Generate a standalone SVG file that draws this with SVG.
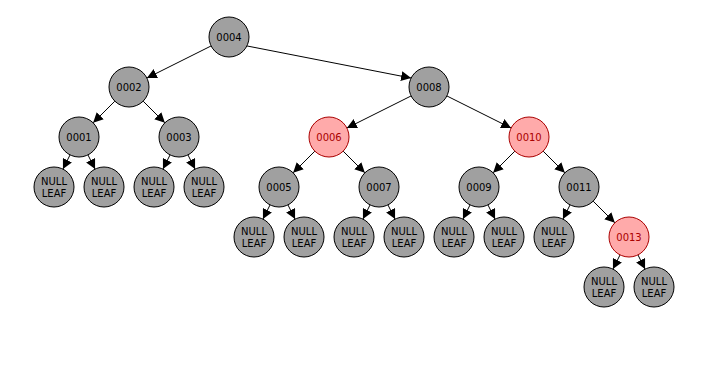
<svg xmlns="http://www.w3.org/2000/svg" width="726" height="390" viewBox="0 0 726 390">
<style>
.n circle{fill:#a0a0a0;stroke:#000;stroke-width:1}
.r circle{fill:#ffaaaa;stroke:#aa0000;stroke-width:1}
text{font-family:"DejaVu Sans",sans-serif;font-size:10px;text-anchor:middle;fill:#000}
.r text{fill:#aa0000}
#edges line{stroke:#000;stroke-width:1;marker-end:url(#ah)}
</style>
<defs>
<marker id="ah" viewBox="0 0 10 10" refX="10" refY="5" markerWidth="10" markerHeight="10" markerUnits="userSpaceOnUse" orient="auto"><path d="M0,0 L10,5 L0,10 z" fill="#000"/></marker>
</defs>
<rect width="726" height="390" fill="#fff"/>
<g id="edges">
<line x1="211.11" y1="45.94" x2="146.89" y2="78.06"/>
<line x1="246.89" y1="45.94" x2="411.11" y2="78.06"/>
<line x1="114.86" y1="101.14" x2="93.14" y2="122.86"/>
<line x1="143.14" y1="101.14" x2="164.86" y2="122.86"/>
<line x1="411.11" y1="95.94" x2="346.89" y2="128.06"/>
<line x1="446.89" y1="95.94" x2="511.11" y2="128.06"/>
<line x1="70.06" y1="154.89" x2="62.94" y2="169.11"/>
<line x1="87.94" y1="154.89" x2="95.06" y2="169.11"/>
<line x1="170.06" y1="154.89" x2="162.94" y2="169.11"/>
<line x1="187.94" y1="154.89" x2="195.06" y2="169.11"/>
<line x1="314.86" y1="151.14" x2="293.14" y2="172.86"/>
<line x1="343.14" y1="151.14" x2="364.86" y2="172.86"/>
<line x1="514.86" y1="151.14" x2="493.14" y2="172.86"/>
<line x1="543.14" y1="151.14" x2="564.86" y2="172.86"/>
<line x1="270.06" y1="204.89" x2="262.94" y2="219.11"/>
<line x1="287.94" y1="204.89" x2="295.06" y2="219.11"/>
<line x1="370.06" y1="204.89" x2="362.94" y2="219.11"/>
<line x1="387.94" y1="204.89" x2="395.06" y2="219.11"/>
<line x1="470.06" y1="204.89" x2="462.94" y2="219.11"/>
<line x1="487.94" y1="204.89" x2="495.06" y2="219.11"/>
<line x1="570.06" y1="204.89" x2="562.94" y2="219.11"/>
<line x1="593.14" y1="201.14" x2="614.86" y2="222.86"/>
<line x1="620.06" y1="254.89" x2="612.94" y2="269.11"/>
<line x1="637.94" y1="254.89" x2="645.06" y2="269.11"/>
</g>
<g id="n0004" class="n"><circle cx="229" cy="37" r="20"/><text x="229" y="40.6">0004</text></g>
<g id="n0002" class="n"><circle cx="129" cy="87" r="20"/><text x="129" y="90.6">0002</text></g>
<g id="n0008" class="n"><circle cx="429" cy="87" r="20"/><text x="429" y="90.6">0008</text></g>
<g id="n0001" class="n"><circle cx="79" cy="137" r="20"/><text x="79" y="140.6">0001</text></g>
<g id="n0003" class="n"><circle cx="179" cy="137" r="20"/><text x="179" y="140.6">0003</text></g>
<g id="n0006" class="r"><circle cx="329" cy="137" r="20"/><text x="329" y="140.6">0006</text></g>
<g id="n0010" class="r"><circle cx="529" cy="137" r="20"/><text x="529" y="140.6">0010</text></g>
<g id="leaf1" class="n"><circle cx="54" cy="187" r="20"/><text x="54" y="185">NULL</text><text x="54" y="197">LEAF</text></g>
<g id="leaf2" class="n"><circle cx="104" cy="187" r="20"/><text x="104" y="185">NULL</text><text x="104" y="197">LEAF</text></g>
<g id="leaf3" class="n"><circle cx="154" cy="187" r="20"/><text x="154" y="185">NULL</text><text x="154" y="197">LEAF</text></g>
<g id="leaf4" class="n"><circle cx="204" cy="187" r="20"/><text x="204" y="185">NULL</text><text x="204" y="197">LEAF</text></g>
<g id="n0005" class="n"><circle cx="279" cy="187" r="20"/><text x="279" y="190.6">0005</text></g>
<g id="n0007" class="n"><circle cx="379" cy="187" r="20"/><text x="379" y="190.6">0007</text></g>
<g id="n0009" class="n"><circle cx="479" cy="187" r="20"/><text x="479" y="190.6">0009</text></g>
<g id="n0011" class="n"><circle cx="579" cy="187" r="20"/><text x="579" y="190.6">0011</text></g>
<g id="leaf5" class="n"><circle cx="254" cy="237" r="20"/><text x="254" y="235">NULL</text><text x="254" y="247">LEAF</text></g>
<g id="leaf6" class="n"><circle cx="304" cy="237" r="20"/><text x="304" y="235">NULL</text><text x="304" y="247">LEAF</text></g>
<g id="leaf7" class="n"><circle cx="354" cy="237" r="20"/><text x="354" y="235">NULL</text><text x="354" y="247">LEAF</text></g>
<g id="leaf8" class="n"><circle cx="404" cy="237" r="20"/><text x="404" y="235">NULL</text><text x="404" y="247">LEAF</text></g>
<g id="leaf9" class="n"><circle cx="454" cy="237" r="20"/><text x="454" y="235">NULL</text><text x="454" y="247">LEAF</text></g>
<g id="leaf10" class="n"><circle cx="504" cy="237" r="20"/><text x="504" y="235">NULL</text><text x="504" y="247">LEAF</text></g>
<g id="leaf11" class="n"><circle cx="554" cy="237" r="20"/><text x="554" y="235">NULL</text><text x="554" y="247">LEAF</text></g>
<g id="n0013" class="r"><circle cx="629" cy="237" r="20"/><text x="629" y="240.6">0013</text></g>
<g id="leaf12" class="n"><circle cx="604" cy="287" r="20"/><text x="604" y="285">NULL</text><text x="604" y="297">LEAF</text></g>
<g id="leaf13" class="n"><circle cx="654" cy="287" r="20"/><text x="654" y="285">NULL</text><text x="654" y="297">LEAF</text></g>
</svg>
